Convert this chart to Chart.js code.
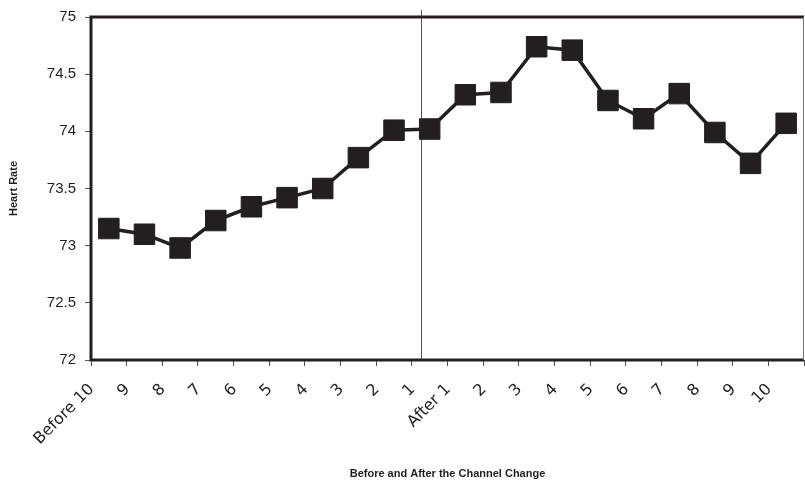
<!DOCTYPE html>
<html lang="en">
<head>
    <meta charset="UTF-8">
    <title>Heart Rate Before and After the Channel Change</title>
    <script src="https://cdn.jsdelivr.net/npm/chart.js"></script>
    <style>
        body { margin: 0; background: #fff; }
        #wrap { width: 805px; height: 481px; }
    </style>
</head>
<body>
    <div id="wrap">
        <canvas id="hrChart" width="805" height="481"></canvas>
    </div>

    <script>
        // data
        const categories = ['Before 10', '9', '8', '7', '6', '5', '4', '3', '2', '1',
                            'After 1', '2', '3', '4', '5', '6', '7', '8', '9', '10'];
        const heartRate = [73.15, 73.10, 72.98, 73.22, 73.34, 73.42, 73.50, 73.77, 74.01, 74.02,
                           74.32, 74.34, 74.74, 74.71, 74.27, 74.11, 74.33, 73.99, 73.72, 74.07];
        const yTicks = [72, 72.5, 73, 73.5, 74, 74.5, 75];
        // where the channel change line sits (in category units)
        const changeAt = 8.75;

        const ink = '#231f20';

        // plot frame + the channel change marker
        const framePlugin = {
            id: 'frame',
            beforeDatasetsDraw(chart) {
                const { ctx, chartArea: a, scales: { x } } = chart;
                const px = Math.round(x.getPixelForValue(changeAt)) + 0.5;
                ctx.save();
                ctx.strokeStyle = '#555';
                ctx.lineWidth = 1;
                ctx.beginPath();
                ctx.moveTo(px, a.top - 7);
                ctx.lineTo(px, a.bottom);
                ctx.stroke();
                ctx.restore();
            },
            afterDatasetsDraw(chart) {
                const { ctx, chartArea: a } = chart;
                ctx.save();
                ctx.strokeStyle = ink;
                ctx.lineWidth = 3;
                ctx.beginPath();
                ctx.moveTo(a.right, a.top);
                ctx.lineTo(a.left, a.top);
                ctx.lineTo(a.left, a.bottom);
                ctx.lineTo(a.right, a.bottom);
                ctx.stroke();
                ctx.strokeStyle = '#777';
                ctx.lineWidth = 1;
                ctx.beginPath();
                ctx.moveTo(a.right - 0.5, a.top);
                ctx.lineTo(a.right - 0.5, a.bottom);
                ctx.stroke();
                ctx.restore();
            }
        };

        const ctx = document.getElementById('hrChart').getContext('2d');
        const hrChart = new Chart(ctx, {
            type: 'line',
            data: {
                labels: categories,
                datasets: [{
                    label: 'Heart Rate',
                    data: heartRate,
                    borderColor: ink,
                    backgroundColor: ink,
                    borderWidth: 3.5,
                    pointStyle: 'rect',
                    pointRadius: 14.5,
                    pointBorderWidth: 1,
                    pointBackgroundColor: ink,
                    pointBorderColor: ink,
                    tension: 0
                }]
            },
            options: {
                responsive: false,
                animation: false,
                layout: { autoPadding: false, padding: { top: 17, right: 1, left: 0, bottom: 0 } },
                plugins: {
                    legend: { display: false },
                    tooltip: { enabled: false }
                },
                scales: {
                    x: {
                        offset: true,
                        grid: {
                            offset: true,
                            drawOnChartArea: false,
                            drawTicks: true,
                            tickLength: 6,
                            tickColor: '#555',
                            lineWidth: 1
                        },
                        border: { display: false },
                        ticks: {
                            autoSkip: false,
                            minRotation: 45,
                            maxRotation: 45,
                            labelOffset: -17,
                            padding: 14,
                            color: ink,
                            font: { family: 'DejaVu Sans', size: 16 }
                        },
                        title: {
                            display: true,
                            text: 'Before and After the Channel Change',
                            color: ink,
                            font: { family: 'Liberation Sans', size: 11, weight: 'bold' },
                            padding: { top: 6, bottom: 0 }
                        },
                        afterFit(scale) {
                            scale.height = 121;
                            scale.paddingLeft = 0;
                            scale.paddingRight = 0;
                        }
                    },
                    y: {
                        min: 72,
                        max: 75,
                        afterBuildTicks(scale) {
                            scale.ticks = yTicks.map(v => ({ value: v }));
                        },
                        grid: {
                            drawOnChartArea: false,
                            drawTicks: true,
                            tickLength: 6,
                            tickColor: '#555'
                        },
                        border: { display: false },
                        ticks: {
                            padding: 9,
                            color: ink,
                            font: { family: 'Liberation Sans', size: 15 },
                            callback: v => String(v)
                        },
                        title: {
                            display: true,
                            text: 'Heart Rate',
                            color: ink,
                            font: { family: 'Liberation Sans', size: 11, weight: 'bold' },
                            padding: { top: 7, bottom: 0 }
                        },
                        afterFit(scale) {
                            scale.width = 91;
                            scale.paddingTop = 0;
                            scale.paddingBottom = 0;
                        }
                    }
                }
            },
            plugins: [framePlugin]
        });
    </script>
</body>
</html>
